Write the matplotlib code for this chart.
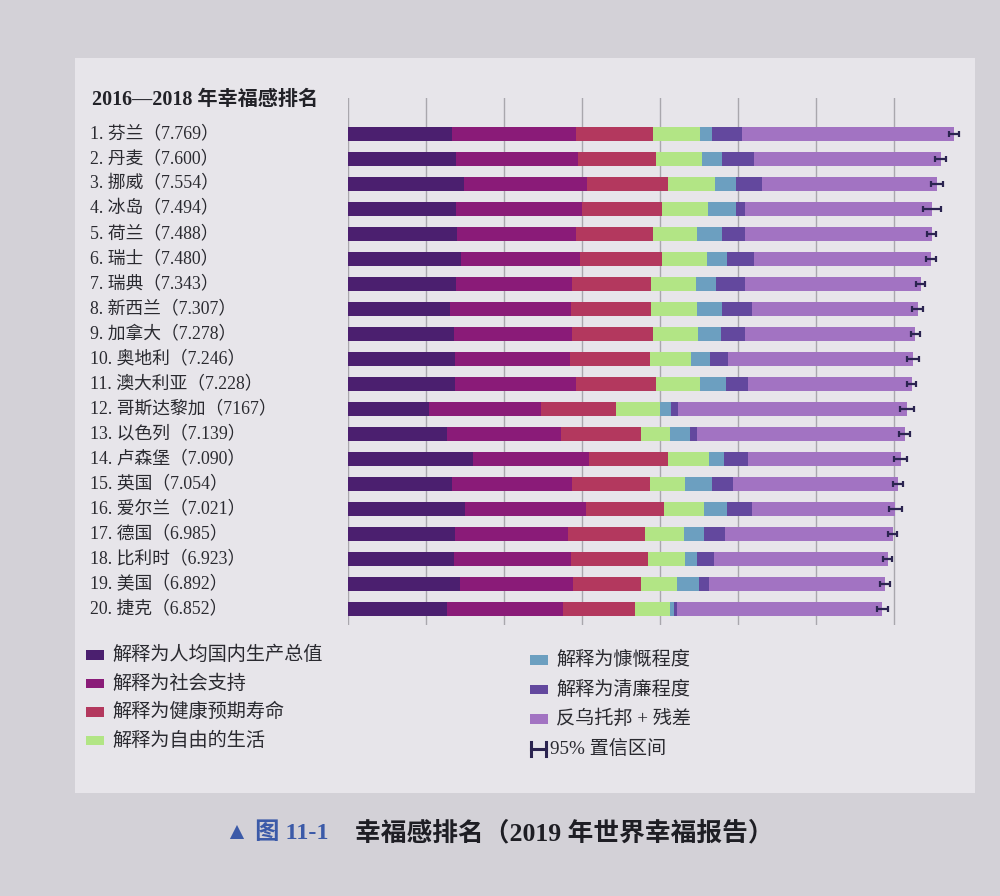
import numpy as np
import matplotlib.pyplot as plt
from matplotlib.patches import Rectangle
from matplotlib.lines import Line2D

plt.rcParams['font.family'] = ['Liberation Serif', 'Noto Sans CJK SC', 'DejaVu Sans']

# 数据：2019 年世界幸福报告（2016—2018 年）前 20 名
countries = ['芬兰', '丹麦', '挪威', '冰岛', '荷兰', '瑞士', '瑞典', '新西兰', '加拿大', '奥地利',
             '澳大利亚', '哥斯达黎加', '以色列', '卢森堡', '英国', '爱尔兰', '德国', '比利时', '美国', '捷克']
score_text = ['7.769', '7.600', '7.554', '7.494', '7.488', '7.480', '7.343', '7.307', '7.278', '7.246',
              '7.228', '7167', '7.139', '7.090', '7.054', '7.021', '6.985', '6.923', '6.892', '6.852']
score = np.array([7.769, 7.600, 7.554, 7.494, 7.488, 7.480, 7.343, 7.307, 7.278, 7.246,
                  7.228, 7.167, 7.139, 7.090, 7.054, 7.021, 6.985, 6.923, 6.892, 6.852])
gdp = np.array([1.340, 1.383, 1.488, 1.380, 1.396, 1.452, 1.387, 1.303, 1.365, 1.376,
                1.372, 1.034, 1.276, 1.609, 1.333, 1.499, 1.373, 1.356, 1.433, 1.269])
social = np.array([1.587, 1.573, 1.582, 1.624, 1.522, 1.526, 1.487, 1.557, 1.505, 1.475,
                   1.548, 1.441, 1.455, 1.479, 1.538, 1.553, 1.454, 1.504, 1.457, 1.487])
health = np.array([0.986, 0.996, 1.028, 1.026, 0.999, 1.052, 1.009, 1.026, 1.039, 1.016,
                   1.036, 0.963, 1.029, 1.012, 0.996, 0.999, 0.987, 0.986, 0.874, 0.920])
freedom = np.array([0.596, 0.592, 0.603, 0.591, 0.557, 0.572, 0.574, 0.585, 0.584, 0.532,
                    0.557, 0.558, 0.371, 0.526, 0.450, 0.516, 0.495, 0.473, 0.454, 0.457])
generosity = np.array([0.153, 0.252, 0.271, 0.354, 0.322, 0.263, 0.267, 0.330, 0.285, 0.244,
                       0.332, 0.144, 0.261, 0.194, 0.348, 0.298, 0.261, 0.160, 0.280, 0.046])
corruption = np.array([0.393, 0.410, 0.341, 0.118, 0.298, 0.343, 0.373, 0.380, 0.308, 0.226,
                       0.290, 0.093, 0.082, 0.316, 0.278, 0.310, 0.265, 0.210, 0.128, 0.036])
ci_low = np.array([7.704, 7.534, 7.472, 7.377, 7.429, 7.415, 7.281, 7.237, 7.226, 7.173,
                   7.169, 7.075, 7.072, 7.008, 6.995, 6.941, 6.924, 6.865, 6.829, 6.779])
ci_high = np.array([7.834, 7.667, 7.636, 7.611, 7.546, 7.544, 7.406, 7.378, 7.330, 7.318,
                    7.287, 7.259, 7.205, 7.172, 7.113, 7.100, 7.046, 6.981, 6.955, 6.925])
dystopia = score - (gdp + social + health + freedom + generosity + corruption)

parts = [gdp, social, health, freedom, generosity, corruption, dystopia]
part_names = ['解释为人均国内生产总值', '解释为社会支持', '解释为健康预期寿命', '解释为自由的生活',
              '解释为慷慨程度', '解释为清廉程度', '反乌托邦 + 残差']
colors = ['#4b1f6f', '#8a1b78', '#b3385e', '#b2e585', '#6c9fc0', '#63489e', '#a273c2']
ebar_color = '#2b2450'

fig = plt.figure(figsize=(10, 8.96), dpi=100)
fig.patch.set_facecolor('#d3d1d7')
fig.patches.append(Rectangle((0.075, 0.115), 0.9, 0.82, transform=fig.transFigure,
                             facecolor='#e7e5ea', edgecolor='none', zorder=-5))

# 坐标轴：左边 348px，每单位约 78px；上 98px，下 625px
ax = fig.add_axes([0.348, 1 - 625 / 896, 0.616, 527 / 896])
ax.set_zorder(2)
ax.set_facecolor('none')
y = np.arange(len(countries))
left = np.zeros(len(countries))
for vals, c in zip(parts, colors):
    ax.barh(y, vals, left=left, height=0.56, color=c, edgecolor='none', zorder=2)
    left = left + vals
ax.errorbar(score, y, xerr=[score - ci_low, ci_high - score], fmt='none',
            ecolor=ebar_color, elinewidth=1.6, capsize=2.5, capthick=1.6, zorder=3)

ax.set_xlim(0, 7.9)
ax.set_ylim(19.65, -1.45)
ax.set_xticks(np.arange(0, 8))
ax.grid(axis='x', color='#a9a7ad', linewidth=1, zorder=1)
ax.set_axisbelow(True)
ax.tick_params(left=False, bottom=False, labelleft=False, labelbottom=False)
for s in ax.spines.values():
    s.set_visible(False)

# 国家标签
for i, (name, st) in enumerate(zip(countries, score_text)):
    ax.text(-0.419, i, f'{i + 1}. {name}（{st}）', transform=ax.get_yaxis_transform(),
            ha='left', va='center', fontsize=12.8, color='#2a2a30', clip_on=False)

fig.text(0.092, 1 - 100 / 896, '2016—2018 年幸福感排名', fontsize=14.5, fontweight='bold',
         ha='left', va='center', color='#222228')

# 图例
left_items = list(zip(part_names[:4], colors[:4]))
right_items = list(zip(part_names[4:], colors[4:]))
for k, (name, c) in enumerate(left_items):
    yy = 1 - (655 + k * 28.5) / 896
    fig.patches.append(Rectangle((0.086, yy - 0.0055), 0.018, 0.011, transform=fig.transFigure,
                                 facecolor=c, edgecolor='none'))
    fig.text(0.112, yy, name, fontsize=13.8, ha='left', va='center', color='#2a2a30')
for k, (name, c) in enumerate(right_items):
    yy = 1 - (660 + k * 29.5) / 896
    fig.patches.append(Rectangle((0.530, yy - 0.0055), 0.018, 0.011, transform=fig.transFigure,
                                 facecolor=c, edgecolor='none'))
    fig.text(0.556, yy, name, fontsize=13.8, ha='left', va='center', color='#2a2a30')
# 置信区间图例符号
ey = 1 - 749 / 896
fig.add_artist(Line2D([0.531, 0.546], [ey, ey], color=ebar_color, lw=2.2, transform=fig.transFigure))
for ex in (0.531, 0.546):
    fig.add_artist(Line2D([ex, ex], [ey - 0.008, ey + 0.008], color=ebar_color, lw=2.2,
                          transform=fig.transFigure))
fig.text(0.550, ey, '95% 置信区间', fontsize=13.8, ha='left', va='center', color='#2a2a30')

# 图题
fig.text(0.225, 1 - 833 / 896, '▲ 图 11-1', fontsize=17.5, fontweight='bold', ha='left',
         va='center', color='#3b5aa8')
fig.text(0.355, 1 - 833 / 896, '幸福感排名（2019 年世界幸福报告）', fontsize=18.5, fontweight='bold',
         ha='left', va='center', color='#1e1e24')

fig.savefig('out.png', dpi=100, facecolor=fig.get_facecolor())
